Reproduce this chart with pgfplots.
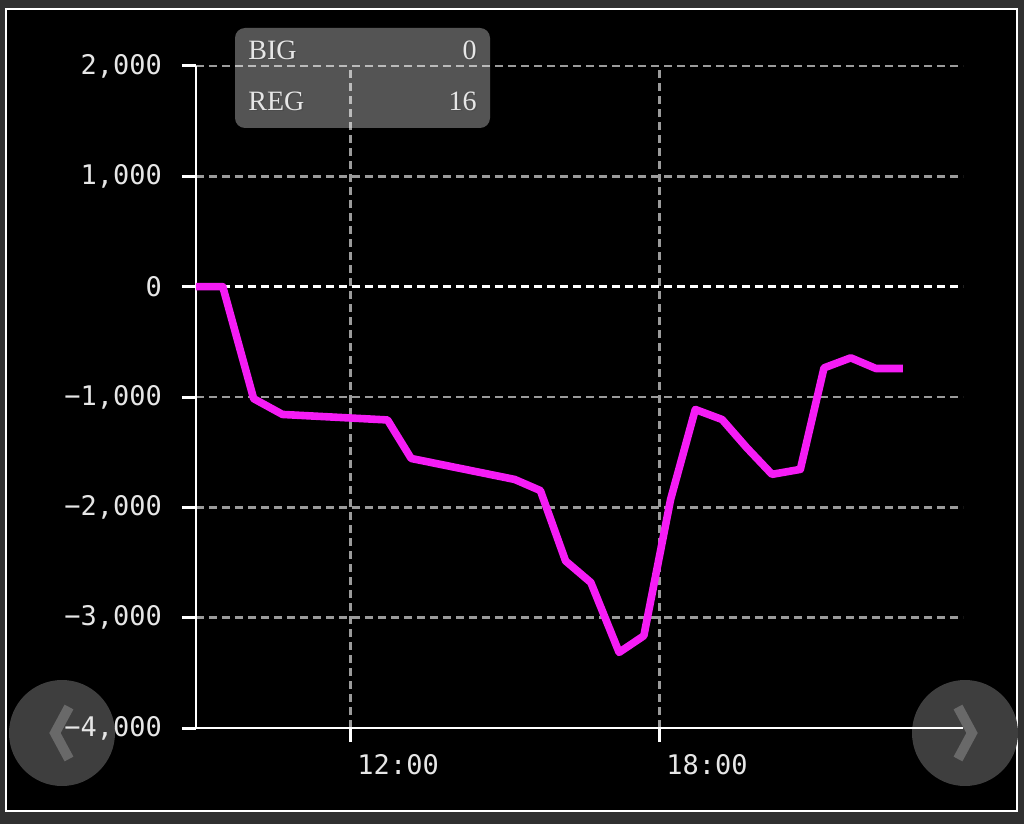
\documentclass[border=0pt]{standalone}
\usepackage{fontspec}
\setmainfont{Liberation Serif}
\newfontfamily\monofont{DejaVu Sans Mono}
\usepackage{pgfplots}
\pgfplotsset{compat=1.18}
\definecolor{mag}{RGB}{245,28,245}
\definecolor{gridgray}{RGB}{155,155,155}
\definecolor{texture}{RGB}{48,48,48}
\definecolor{lbl}{RGB}{230,230,230}
\definecolor{navbg}{RGB}{62,62,62}
\definecolor{navfg}{RGB}{105,105,105}

\begin{document}
\begin{tikzpicture}[x=0.5pt,y=-0.5pt]
  % frame
  \fill[texture] (0,0) rectangle (1024,824);
  \fill[black] (5,8) rectangle (1018,812);
  \draw[white, line width=1.3pt] (6,9) rectangle (1017,811);

  % nav buttons (behind the axis)
  \fill[navbg] (62,733) circle (26.5pt);
  \fill[navbg] (965,733) circle (26.5pt);
  \draw[navfg, line width=5pt] (69,707) -- (55,733) -- (69,759);
  \draw[navfg, line width=5pt] (958,707) -- (972,733) -- (958,759);

  \begin{axis}[
      at={(98pt,-364pt)}, anchor=south west,
      scale only axis, width=383.5pt, height=331pt,
      xmin=9, xmax=23.9, ymin=-4000, ymax=2000,
      axis lines=left,
      axis line style={white, line width=1.2pt, -},
      xtick={12,18}, xticklabels={12:00,18:00},
      ytick={-4000,-3000,-2000,-1000,1000,2000},
      yticklabels={{−4,000},{−3,000},{−2,000},{−1,000},{1,000},{2,000}},
      extra y ticks={0}, extra y tick labels={0},
      extra y tick style={major grid style={white, line width=1.4pt, dash pattern=on 3.8pt off 2.7pt}},
      tick align=outside, major tick length=7pt,
      every tick/.style={white, line width=1.5pt},
      xmajorgrids, ymajorgrids,
      major grid style={gridgray, line width=1.4pt, dash pattern=on 3.8pt off 2.7pt},
      tick label style={font=\monofont\fontsize{13.5}{16}\selectfont, text=lbl},
      xticklabel style={anchor=north west, yshift=-2.5pt},
      yticklabel style={xshift=-6.5pt},
      clip=false,
    ]
    \addplot[mag, line width=3.8pt, line join=round] coordinates {
      (9.00,0) (9.52,0) (10.12,-1015) (10.68,-1158) (12.72,-1208)
      (13.18,-1557) (15.19,-1747) (15.69,-1848) (16.18,-2486) (16.67,-2681)
      (17.22,-3315) (17.70,-3164) (18.22,-1928) (18.70,-1113) (19.22,-1204)
      (19.70,-1460) (20.19,-1701) (20.74,-1656) (21.20,-736) (21.72,-645)
      (22.21,-742) (22.73,-742)};
  \end{axis}

  % info box
  \fill[white, opacity=0.33, rounded corners=5pt] (235,28) rectangle (490,128);
  \begin{scope}[every node/.style={font=\fontsize{14}{16}\selectfont, inner sep=0pt}]
    \node[anchor=west, text=black!70] at (249.5,51.5) {BIG};
    \node[anchor=east, text=black!70] at (478.5,51.5) {0};
    \node[anchor=west, text=black!70] at (249.5,102.5) {REG};
    \node[anchor=east, text=black!70] at (478.5,102.5) {16};
    \node[anchor=west, text=lbl] at (248,50) {BIG};
    \node[anchor=east, text=lbl] at (477,50) {0};
    \node[anchor=west, text=lbl] at (248,101) {REG};
    \node[anchor=east, text=lbl] at (477,101) {16};
  \end{scope}
\end{tikzpicture}
\end{document}
